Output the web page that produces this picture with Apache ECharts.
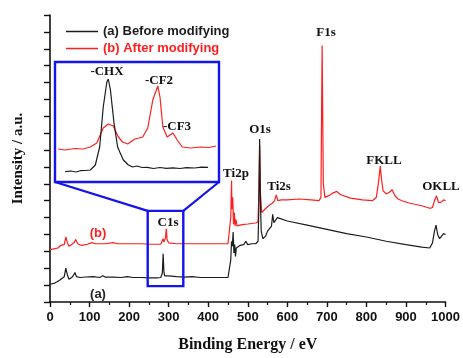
<!DOCTYPE html>
<html><head><meta charset="utf-8">
<script src="https://cdn.jsdelivr.net/npm/echarts@6/dist/echarts.min.js"></script>
<style>html,body{margin:0;padding:0;background:#fff}#c{width:463px;height:358px}</style>
</head><body><div id="c"></div>
<script>
// ---- data (binding energy in eV, intensity in arbitrary units) ----
const seriesNames = ['(a) Before modifying', '(b) After modifying'];
const xTickMin = 0, xTickMax = 1000, xTickStep = 100;
const yMin = 0, yMax = 17;

const curveA = [[0,1.05],[10,1.1],[18,1.2],[25,1.3],[30,1.2],[36,1.5],[40,2.0],[44,1.6],[48,1.35],[55,1.45],[60,1.6],[63,1.75],[67,1.5],[76,1.45],[90,1.48],[110,1.5],[125,1.45],[134,1.55],[140,1.47],[160,1.47],[180,1.45],[195,1.5],[210,1.45],[230,1.45],[250,1.43],[270,1.43],[280,1.45],[284,1.7],[286,2.85],[288,1.8],[290,1.55],[300,1.55],[320,1.5],[340,1.47],[360,1.5],[380,1.45],[400,1.45],[420,1.45],[440,1.45],[450,1.45],[455,1.5],[457,2.5],[459,3.6],[461,3.3],[463,4.15],[465,2.9],[467,3.4],[469,2.7],[471,3.2],[474,3.3],[480,3.35],[490,3.4],[495,3.6],[500,3.4],[510,3.45],[520,3.45],[526,3.6],[528,5.5],[530,9.65],[532,6.0],[534,4.2],[538,3.75],[545,3.9],[550,4.2],[555,4.3],[560,4.5],[563,5.2],[566,4.7],[570,4.8],[575,5.0],[580,4.9],[600,4.8],[650,4.55],[700,4.3],[750,4.05],[800,3.85],[850,3.6],[900,3.4],[940,3.25],[960,3.2],[967,3.5],[972,4.2],[976,4.55],[980,4.0],[985,3.75],[990,3.85],[995,4.05],[1000,4.0]];

const curveB = [[0,3.1],[10,3.15],[20,3.2],[27,3.35],[32,3.25],[36,3.4],[40,3.85],[44,3.5],[48,3.3],[55,3.4],[62,3.55],[65,3.7],[70,3.45],[80,3.35],[95,3.42],[106,3.52],[115,3.45],[140,3.45],[160,3.52],[170,3.45],[200,3.45],[230,3.45],[260,3.42],[280,3.42],[286,3.75],[288,3.55],[292,3.8],[294,4.33],[296,3.7],[300,3.5],[320,3.45],[350,3.45],[380,3.45],[400,3.45],[430,3.45],[450,3.45],[455,3.5],[457,5.0],[459,7.2],[460,5.5],[462,6.2],[464,4.6],[466,5.3],[468,4.5],[470,4.9],[473,4.5],[480,4.55],[490,4.6],[500,4.62],[510,4.65],[520,4.68],[526,4.75],[528,6.5],[530,9.3],[532,6.5],[535,5.3],[540,5.4],[548,5.6],[555,5.75],[562,5.85],[568,6.0],[572,6.35],[576,6.0],[585,6.05],[600,6.05],[630,6.1],[660,6.05],[680,6.0],[685,6.2],[688,15.2],[691,7.0],[695,6.2],[705,6.3],[715,6.45],[725,6.55],[735,6.35],[760,6.15],[790,6.05],[815,6.0],[825,6.2],[830,7.0],[835,8.05],[838,7.3],[842,6.6],[850,6.4],[858,6.5],[865,6.65],[872,6.3],[880,6.1],[885,6.15],[890,6.0],[910,5.85],[940,5.7],[960,5.55],[967,5.6],[972,6.0],[977,6.3],[982,5.9],[988,5.9],[995,6.05],[1000,6.0]];

// inset: C1s high-resolution region
const insetXRange = [278, 300];
const insetYRange = [0, 120];
const insetA = [[279.0,10.3],[279.8,11],[280.5,10],[281.1,11.3],[281.8,11.5],[282.5,12],[283.2,17],[283.8,35],[284.3,75],[284.8,100],[285.0,103],[285.3,92],[285.8,59],[286.3,35],[286.6,30],[287.1,22],[287.8,17],[288.4,15],[289.0,16],[289.7,14.5],[290.4,14.7],[291.3,13.5],[292.2,14.5],[293.1,13.7],[294.0,14.2],[295.0,13.5],[295.9,14.3],[297.0,14],[298.0,14.8],[298.9,14.7]];
const insetB = [[278.0,33],[279.0,32],[280.3,33.5],[281.5,33],[282.5,35],[283.4,39],[284.3,54],[285.0,58],[285.7,56],[286.4,45],[287.0,40],[287.7,38],[288.7,43],[289.3,44],[289.8,45],[290.5,54],[291.2,82],[291.9,96],[292.2,85],[292.6,55],[293.2,45],[293.6,47],[294.0,49],[294.6,42],[295.3,35],[296.5,34],[297.8,35],[299.0,34.5],[300.0,36]];

// the surveyed region shown in the inset (data units of main plot)
const zoomBoxX = [247, 337];
const zoomBoxY = [0.94, 5.4];

const peakLabels = [
  {t:'F1s', x:326, y:33}, {t:'O1s', x:260, y:130}, {t:'FKLL', x:384, y:161},
  {t:'Ti2p', x:236, y:174}, {t:'Ti2s', x:279, y:187}, {t:'OKLL', x:441, y:187},
  {t:'C1s', x:168, y:223},
  {t:'-CHX', x:107, y:72}, {t:'-CF2', x:159, y:81}, {t:'-CF3', x:177, y:127}
];

const BLACK = '#1c1c1c', RED = '#ff1e1e', BLUE = '#1414ee';
const SANS = 'Liberation Sans', SERIF = 'Liberation Serif';

const chart = echarts.init(document.getElementById('c'), null, {renderer:'canvas'});
const option = {
  animation: false,
  backgroundColor: '#fff',
  legend: {
    data: [
      {name: seriesNames[0], textStyle:{color: BLACK}},
      {name: seriesNames[1], textStyle:{color: RED}}
    ],
    icon: 'rect',
    orient: 'vertical', left: 61, top: 20, itemWidth: 32, itemHeight: 1.5, itemGap: 4,
    textStyle: {fontFamily: SANS, fontWeight: 'bold', fontSize: 13}
  },
  grid: [
    {left: 50, top: 15, width: 397, height: 291},
    {left: 58, top: 62, width: 158, height: 120}
  ],
  xAxis: [
    {type:'value', gridIndex:0, min:xTickMin, max:xTickMax, interval:xTickStep,
     name:'Binding Energy / eV', nameLocation:'middle', nameGap:35,
     nameTextStyle:{fontFamily:SERIF, fontWeight:'bold', fontSize:16, color:'#111'},
     axisLine:{lineStyle:{color:'#111', width:1.6}},
     axisTick:{inside:false, length:5, lineStyle:{color:'#111', width:1.4}},
     minorTick:{show:true, splitNumber:2, length:3, lineStyle:{color:'#111', width:1.2}},
     axisLabel:{fontFamily:SANS, fontWeight:'bold', fontSize:13, color:'#111', margin:9,
                formatter: v => String(v)},
     splitLine:{show:false}},
    {type:'value', gridIndex:1, min:insetXRange[0], max:insetXRange[1], show:false}
  ],
  yAxis: [
    {type:'value', gridIndex:0, min:yMin, max:yMax, interval:1,
     name:'Intensity / a.u.', nameLocation:'middle', nameGap:24, nameRotate:90,
     nameTextStyle:{fontFamily:SERIF, fontWeight:'bold', fontSize:15, color:'#111'},
     axisLine:{lineStyle:{color:'#111', width:1.6}},
     axisTick:{inside:false, length:6, lineStyle:{color:'#111', width:1.4}},
     axisLabel:{show:false}, splitLine:{show:false}},
    {type:'value', gridIndex:1, min:insetYRange[0], max:insetYRange[1], show:false}
  ],
  series: [
    {name:seriesNames[0], type:'line', xAxisIndex:0, yAxisIndex:0, data:curveA, symbol:'none',
     lineStyle:{color:BLACK, width:1.2}, itemStyle:{color:BLACK}, z:3},
    {name:seriesNames[1], type:'line', xAxisIndex:0, yAxisIndex:0, data:curveB, symbol:'none',
     lineStyle:{color:RED, width:1.2}, itemStyle:{color:RED}, z:2},
    {name:seriesNames[0], type:'line', xAxisIndex:1, yAxisIndex:1, data:insetA, symbol:'none',
     lineStyle:{color:BLACK, width:1.2}, itemStyle:{color:BLACK}, z:3},
    {name:seriesNames[1], type:'line', xAxisIndex:1, yAxisIndex:1, data:insetB, symbol:'none',
     lineStyle:{color:RED, width:1.2}, itemStyle:{color:RED}, z:2}
  ]
};
chart.setOption(option);

const tl = chart.convertToPixel({xAxisIndex:0, yAxisIndex:0}, [zoomBoxX[0], zoomBoxY[1]]);
const br = chart.convertToPixel({xAxisIndex:0, yAxisIndex:0}, [zoomBoxX[1], zoomBoxY[0]]);
const inset = {x0:55, y0:62, x1:219, y1:182};
const graphics = [
  {type:'rect', shape:{x:inset.x0, y:inset.y0, width:inset.x1-inset.x0, height:inset.y1-inset.y0},
   style:{fill:null, stroke:BLUE, lineWidth:2.4}, z:10},
  {type:'rect', shape:{x:tl[0], y:tl[1], width:br[0]-tl[0], height:br[1]-tl[1]},
   style:{fill:null, stroke:BLUE, lineWidth:2.4}, z:10},
  {type:'line', shape:{x1:inset.x0, y1:inset.y1, x2:tl[0], y2:tl[1]}, style:{stroke:BLUE, lineWidth:2.2}, z:10},
  {type:'line', shape:{x1:inset.x1, y1:inset.y1, x2:br[0], y2:tl[1]}, style:{stroke:BLUE, lineWidth:2.2}, z:10}
];
peakLabels.forEach(p => graphics.push({type:'text', x:p.x, y:p.y, z:11,
  style:{text:p.t, font:'bold 13px "'+SERIF+'"', fill:'#111', align:'center', verticalAlign:'middle'}}));
graphics.push({type:'text', x:98, y:233, z:11, style:{text:'(b)', font:'bold 13px "'+SANS+'"', fill:RED, align:'center', verticalAlign:'middle'}});
graphics.push({type:'text', x:98, y:294, z:11, style:{text:'(a)', font:'bold 13px "'+SANS+'"', fill:'#222', align:'center', verticalAlign:'middle'}});
chart.setOption({graphic: graphics});
</script></body></html>
